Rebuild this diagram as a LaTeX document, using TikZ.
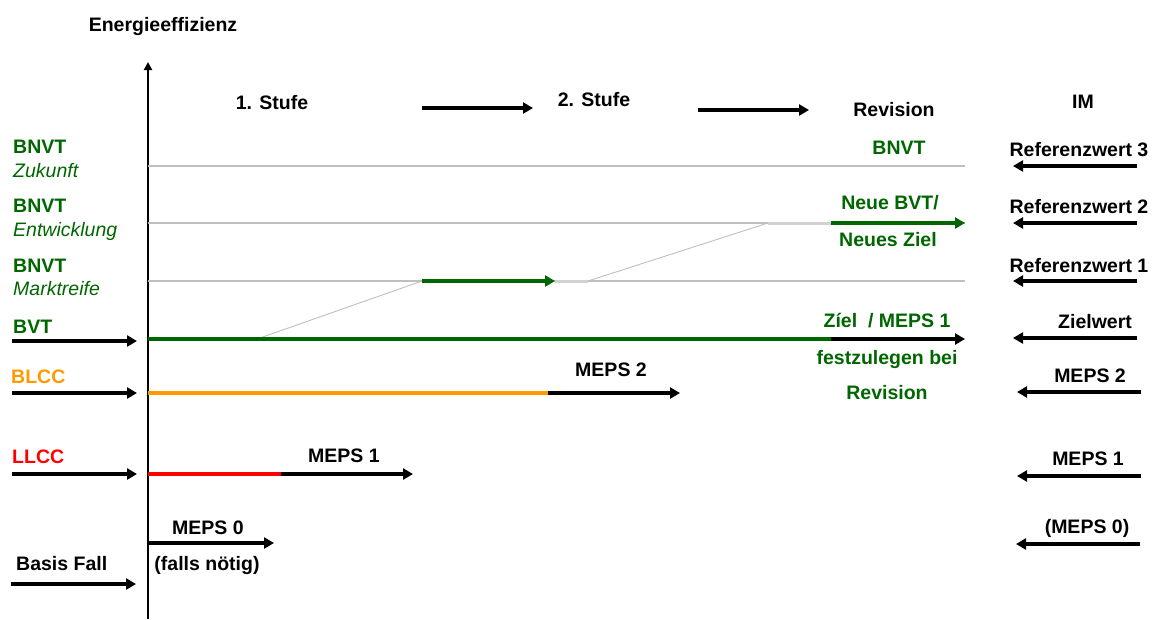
\documentclass[tikz,border=0pt]{standalone}
\usepackage{fontspec}
\setmainfont{Liberation Sans}
\usetikzlibrary{arrows.meta}
\definecolor{dgreen}{RGB}{0,102,0}
\definecolor{orng}{RGB}{255,153,0}
\definecolor{lgray}{RGB}{191,191,191}
\definecolor{llgray}{RGB}{210,210,210}
\begin{document}
\begin{tikzpicture}[x=1pt,y=-1pt,
  lbl/.style={inner sep=0pt, font=\fontsize{19.5}{22}\selectfont\bfseries, anchor=base},
  lblw/.style={lbl, anchor=base west},
  itl/.style={inner sep=0pt, font=\fontsize{19.5}{22}\selectfont\itshape, anchor=base west, text=dgreen},
  arr/.style={line width=3.5pt, -{Triangle[length=10pt,width=11pt]}},
  garr/.style={arr, draw=dgreen},
  colline/.style={line width=3.5pt},
  grid/.style={draw=lgray, line width=1.8pt},
  diag/.style={draw=lgray, line width=0.9pt},
  pale/.style={draw=llgray, line width=3pt},
  axis/.style={line width=2pt, -{Triangle[length=8pt,width=8pt]}}
]
\useasboundingbox (0,0) rectangle (1156,619);

% coordinates
\coordinate (ax0) at (148,619);
\coordinate (ax1) at (148,62);
\coordinate (t1a) at (422,108); \coordinate (t1b) at (533,108);
\coordinate (t2a) at (698,110); \coordinate (t2b) at (809,110);

\coordinate (g3a) at (148,166); \coordinate (g3b) at (965,166);
\coordinate (g2a) at (148,223); \coordinate (g2m) at (768,223); \coordinate (g2n) at (831,223); \coordinate (g2b) at (965,223);
\coordinate (g1a) at (148,281); \coordinate (g1m) at (422,281); \coordinate (g1n) at (555,281); \coordinate (g1o) at (588,281); \coordinate (g1b) at (965,281);

\coordinate (bvta) at (148,339); \coordinate (bvtd) at (257,339); \coordinate (bvtm) at (831,339); \coordinate (bvtb) at (965,339);
\coordinate (blca) at (148,393); \coordinate (blcm) at (548,393); \coordinate (blcb) at (680,393);
\coordinate (llca) at (148,474); \coordinate (llcm) at (281,474); \coordinate (llcb) at (413,474);
\coordinate (m0a) at (148,543); \coordinate (m0b) at (274,543);

\coordinate (la1) at (12,341); \coordinate (lb1) at (137,341);
\coordinate (la2) at (12,393); \coordinate (lb2) at (137,393);
\coordinate (la3) at (12,474); \coordinate (lb3) at (137,474);
\coordinate (la4) at (11,584); \coordinate (lb4) at (136,584);

\coordinate (ra1) at (1137,166); \coordinate (rb1) at (1013,166);
\coordinate (ra2) at (1137,223); \coordinate (rb2) at (1013,223);
\coordinate (ra3) at (1137,281); \coordinate (rb3) at (1013,281);
\coordinate (ra4) at (1137,338); \coordinate (rb4) at (1013,338);
\coordinate (ra5) at (1141,392); \coordinate (rb5) at (1017,392);
\coordinate (ra6) at (1141,476); \coordinate (rb6) at (1017,476);
\coordinate (ra7) at (1140,544); \coordinate (rb7) at (1016,544);

% axis
\draw[axis] (ax0) -- (ax1);
\node[lbl] (energ) at (163,31) {Energieeffizienz};

% top row
\node[lbl] (st1) at (272,109) {1. Stufe};
\node[lbl] (st2) at (594,106) {2. Stufe};
\node[lbl] (rev) at (894,116) {Revision};
\node[lbl] (im) at (1083,108) {IM};
\draw[arr] (t1a) -- (t1b);
\draw[arr] (t2a) -- (t2b);

% gray level lines
\draw[grid] (g3a) -- (g3b);
\draw[grid] (g2a) -- (g2b);
\draw[grid] (g1a) -- (g1b);
\draw[pale] (g1n) -- (g1o);
\draw[pale] (g2m) -- (g2n);
\draw[diag] (bvtd) -- (g1m);
\draw[diag] (g1o) -- (g2m);
\draw[garr] (g1m) -- (g1n);
\draw[garr] (g2n) -- (g2b);

% coloured levels
\draw[colline, draw=dgreen] (bvta) -- (bvtm);
\draw[arr] (bvtm) -- (bvtb);
\draw[colline, draw=orng] (blca) -- (blcm);
\draw[arr] (blcm) -- (blcb);
\draw[colline, draw=red] (llca) -- (llcm);
\draw[arr] (llcm) -- (llcb);
\draw[arr] (m0a) -- (m0b);

% left arrows
\draw[arr] (la1) -- (lb1);
\draw[arr] (la2) -- (lb2);
\draw[arr] (la3) -- (lb3);
\draw[arr] (la4) -- (lb4);

% right arrows
\draw[arr] (ra1) -- (rb1);
\draw[arr] (ra2) -- (rb2);
\draw[arr] (ra3) -- (rb3);
\draw[arr] (ra4) -- (rb4);
\draw[arr] (ra5) -- (rb5);
\draw[arr] (ra6) -- (rb6);
\draw[arr] (ra7) -- (rb7);

% left labels
\node[lblw, text=dgreen] (bn3) at (13,153) {BNVT};
\node[itl] (zuk) at (13,177) {Zukunft};
\node[lblw, text=dgreen] (bn2) at (13,212) {BNVT};
\node[itl] (entw) at (13,236) {Entwicklung};
\node[lblw, text=dgreen] (bn1) at (13,272) {BNVT};
\node[itl] (markt) at (13,295) {Marktreife};
\node[lblw, text=dgreen] (bvt) at (13,333) {BVT};
\node[lblw, text=orng] (blcc) at (11,383) {BLCC};
\node[lblw, text=red] (llcc) at (12,463) {LLCC};
\node[lblw] (basis) at (16,570) {Basis Fall};

% middle labels
\node[lbl] (meps1m) at (344,462) {MEPS 1};
\node[lbl] (meps2m) at (611,376) {MEPS 2};
\node[lbl] (meps0m) at (208,534) {MEPS 0};
\node[lbl] (falls) at (207,570) {(falls nötig)};

% revision column
\node[lbl, text=dgreen] (bnr) at (899,154) {BNVT};
\node[lbl, text=dgreen] (neue) at (890,209) {Neue BVT/};
\node[lbl, text=dgreen] (neuz) at (888,246) {Neues Ziel};
\node[lbl, text=dgreen] (ziel) at (887,327) {Zíel\ \ / MEPS 1};
\node[lbl, text=dgreen] (fest) at (887,364) {festzulegen bei};
\node[lbl, text=dgreen] (revg) at (887,399) {Revision};

% right column
\node[lbl] (ref3) at (1079,156) {Referenzwert 3};
\node[lbl] (ref2) at (1079,213) {Referenzwert 2};
\node[lbl] (ref1) at (1079,272) {Referenzwert 1};
\node[lbl] (zw) at (1095,328) {Zielwert};
\node[lbl] (mr2) at (1090,382) {MEPS 2};
\node[lbl] (mr1) at (1088,465) {MEPS 1};
\node[lbl] (mr0) at (1087,533) {(MEPS 0)};
\end{tikzpicture}
\end{document}
